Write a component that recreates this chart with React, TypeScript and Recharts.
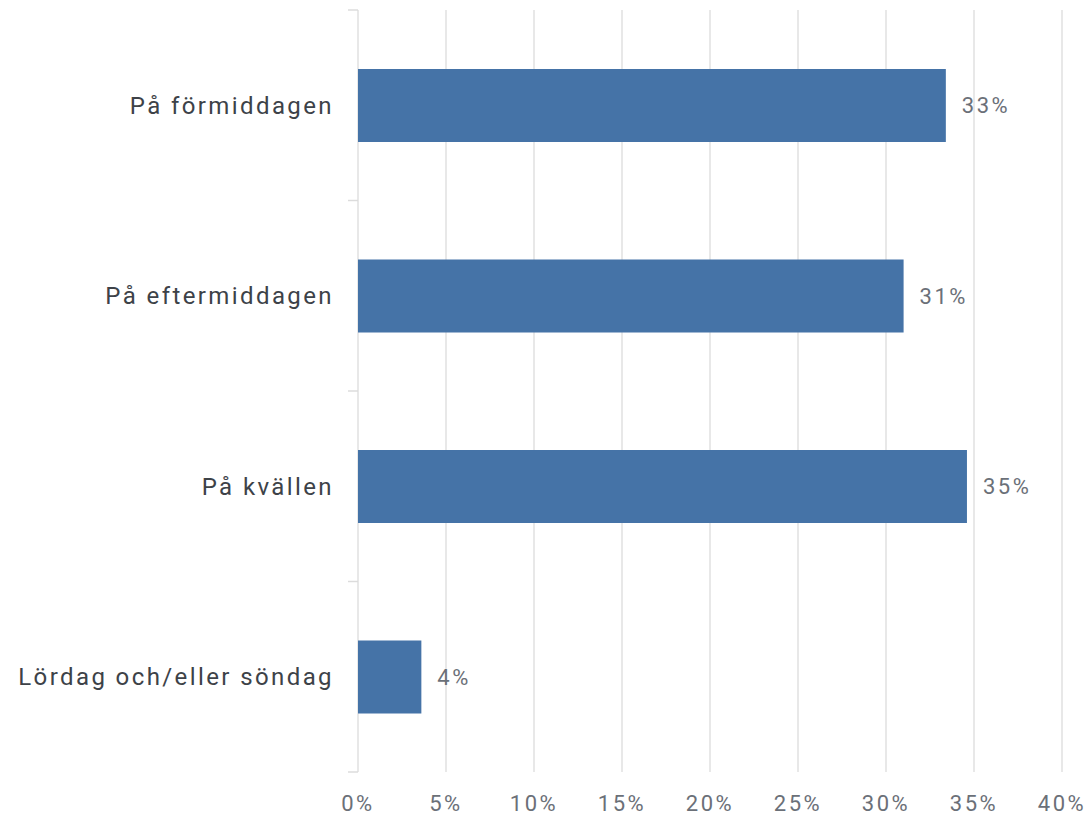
import React from 'react';
import { BarChart, Bar, XAxis, YAxis, CartesianGrid, LabelList } from 'recharts';

const categories = ['På förmiddagen', 'På eftermiddagen', 'På kvällen', 'Lördag och/eller söndag'];
const shares = [33.4, 31.0, 34.6, 3.6];
const xTicks = [0, 5, 10, 15, 20, 25, 30, 35, 40];

const data = categories.map((name, i) => ({ name, value: shares[i] }));

const FONT = 'Roboto, "DejaVu Sans", sans-serif';
const AXIS_W = 358;
const LABEL_GAP = 24;
const EDGE_TICK = 10;
const EDGE_COLOR = '#dcdcdc';

// category label plus small tick marks on the band edges (not the band centres)
function CategoryTick(props: any) {
  const { x, y, payload, index, visibleTicksCount } = props;
  const half = payload.offset || 0;
  const lineX = x + LABEL_GAP;
  const isLast = index === visibleTicksCount - 1;
  return (
    <g>
      <line x1={lineX - EDGE_TICK} x2={lineX} y1={y - half} y2={y - half} stroke={EDGE_COLOR} strokeWidth={1.5} />
      {isLast && (
        <line x1={lineX - EDGE_TICK} x2={lineX} y1={y + half} y2={y + half} stroke={EDGE_COLOR} strokeWidth={1.5} />
      )}
      <text
        x={x}
        y={y}
        dy="0.35em"
        textAnchor="end"
        fontSize={24}
        fill="#3d4248"
        fontFamily={FONT}
        letterSpacing={2.4}
      >
        {payload.value}
      </text>
    </g>
  );
}

export default function App() {
  return (
    <div style={{ position: 'absolute', left: 0, top: 0, fontFamily: FONT }}>
      <BarChart
        width={1091}
        height={816}
        data={data}
        layout="vertical"
        margin={{ top: 10, right: 29, left: 0, bottom: 0 }}
      >
        <CartesianGrid horizontal={false} stroke="#e0e0e0" strokeWidth={1.5} />
        <XAxis
          type="number"
          domain={[0, 40]}
          ticks={xTicks}
          tickFormatter={(v: number) => `${v}%`}
          axisLine={false}
          tickLine={false}
          height={44}
          tickMargin={17}
          tick={{ fontSize: 22, fill: '#6b7078', fontFamily: FONT, letterSpacing: 2.5 }}
        />
        <YAxis
          type="category"
          dataKey="name"
          width={AXIS_W}
          axisLine={false}
          tickLine={false}
          tickSize={0}
          tickMargin={LABEL_GAP}
          tick={<CategoryTick />}
        />
        <Bar dataKey="value" fill="#4573a7" barSize={73} isAnimationActive={false}>
          <LabelList
            dataKey="value"
            position="right"
            offset={16}
            formatter={(v: number) => `${Math.round(v)}%`}
            style={{ fontSize: 22, fill: '#6b7078', fontFamily: FONT, letterSpacing: 2.5 }}
          />
        </Bar>
      </BarChart>
    </div>
  );
}
